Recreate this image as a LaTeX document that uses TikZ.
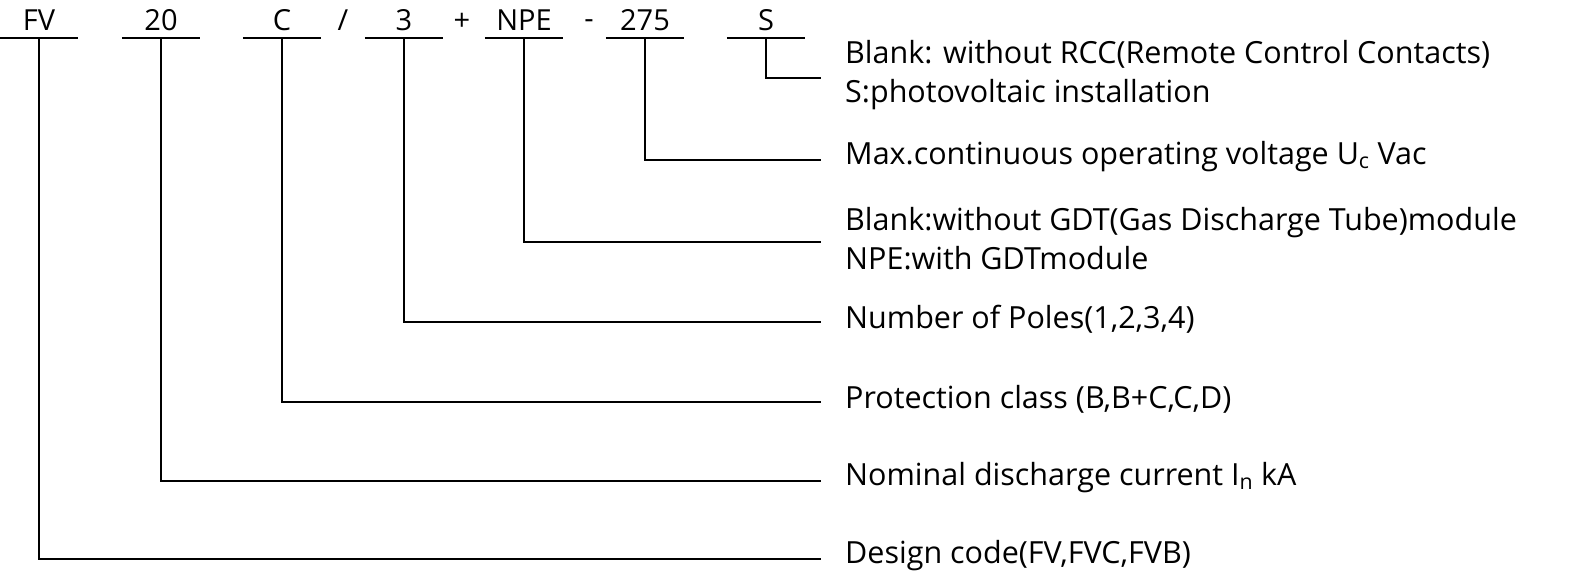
\documentclass[tikz,border=0pt]{standalone}
\usepackage{fontspec}
\setmainfont{Open Sans}
\usetikzlibrary{positioning}
\tikzset{
  code/.style={minimum width=78pt, inner sep=0pt, text depth=0pt, anchor=base, font=\fontsize{29}{30}\selectfont},
  sep/.style={inner sep=0pt, anchor=base, font=\fontsize{29}{30}\selectfont},
  desc/.style={anchor=west, inner sep=0pt, align=left, font=\fontsize{30.5}{39}\selectfont},
  link/.style={line width=1.3pt}
}
\begin{document}
\begin{tikzpicture}[x=1pt,y=-1pt]
    \useasboundingbox (0,0) rectangle (1586,581);
    % code letters
    \node[code] (fv) at (39,30) {FV};
    \node[code] (n20) at (161,30) {20};
    \node[code] (c) at (282,30) {C};
    \node[sep] (slash) at (343,30) {/};
    \node[code] (p3) at (404,30) {3};
    \node[sep] (plus) at (462,30) {+};
    \node[code] (npe) at (524,30) {NPE};
    \node[sep] (dash) at (589,28) {-};
    \node[code] (u275) at (645,30) {275};
    \node[code] (s) at (766,30) {S};
    \foreach \n in {fv,n20,c,p3,npe,u275,s}
        \draw[link] ([yshift=-8pt]\n.base west) -- ([yshift=-8pt]\n.base east);
    % descriptions
    \node[desc] (ds) at (845,75) {Blank: without RCC(Remote Control Contacts)\\S:photovoltaic installation};
    \node[desc] (d275) at (845,157) {Max.continuous operating voltage U\textsubscript{c} Vac};
    \node[desc] (dnpe) at (845,239) {Blank:without GDT(Gas Discharge Tube)module\\NPE:with GDTmodule};
    \node[desc] (dp3) at (845,319) {Number of Poles(1,2,3,4)};
    \node[desc] (dc) at (845,399) {Protection class (B,B+C,C,D)};
    \node[desc] (d20) at (845,478) {Nominal discharge current I\textsubscript{n} kA};
    \node[desc] (dfv) at (845,556) {Design code(FV,FVC,FVB)};
    % connectors
    \foreach \a/\b in {s/ds,u275/d275,npe/dnpe,p3/dp3,c/dc,n20/d20,fv/dfv}
        \draw[link] ([yshift=-8pt]\a.base) |- ([xshift=-24pt,yshift=-3pt]\b.west);
\end{tikzpicture}
\end{document}
